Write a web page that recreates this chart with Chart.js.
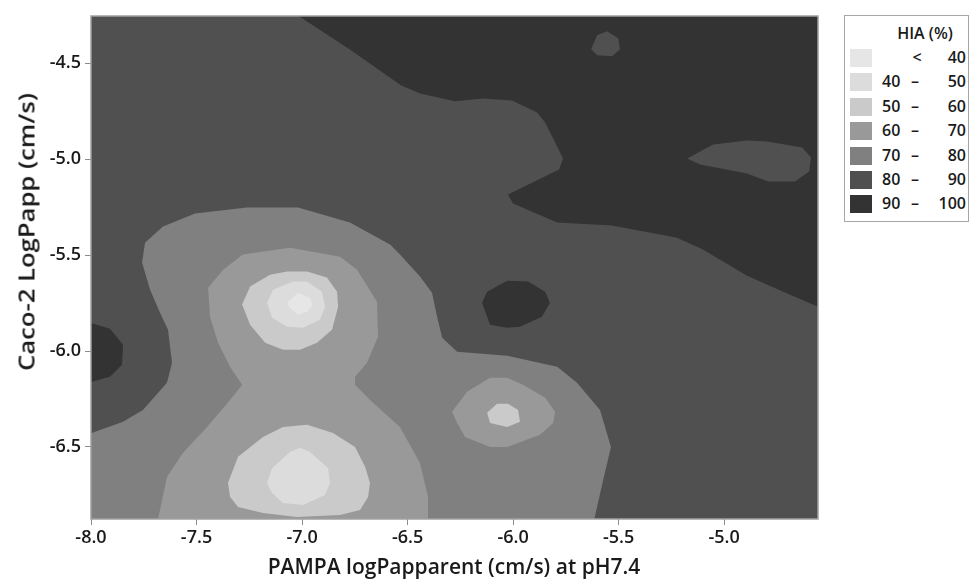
<!DOCTYPE html>
<html>
<head>
<meta charset="utf-8">
<script src="https://cdn.jsdelivr.net/npm/chart.js@4/dist/chart.umd.min.js"></script>
<style>
  html, body { margin: 0; padding: 0; background: #ffffff; }
  #wrap { position: relative; width: 971px; height: 586px; overflow: hidden; font-family: "Open Sans", "Noto Sans", sans-serif; color: #1a1a1a; }
  #c { position: absolute; left: 0; top: 0; }
  .ttl { position: absolute; font-weight: 600; font-size: 21px; white-space: nowrap; line-height: 1; }
  #xt { left: 454px; top: 566px; transform: translate(-50%, -50%); }
  #yt { left: 27px; top: 232px; transform: translate(-50%, -50%) rotate(-90deg) scale(1.22, 1); }
  #legend { position: absolute; left: 844px; top: 15px; width: 125px; height: 207px; border: 1px solid #a6a6a6; box-sizing: border-box; background: #fff; }
  .lg { position: absolute; font-weight: 600; font-size: 16px; line-height: 1; white-space: nowrap; }
  .sw { position: absolute; width: 22px; height: 18px; }
</style>
</head>
<body>
<div id="wrap">
  <canvas id="c" width="971" height="586"></canvas>
  <div class="ttl" id="xt">PAMPA logPapparent (cm/s) at pH7.4</div>
  <div class="ttl" id="yt">Caco-2 LogPapp (cm/s)</div>
  <div id="legend"></div>
</div>
<script>
// ---------------- data ----------------
const xTickValues = [-8.0, -7.5, -7.0, -6.5, -6.0, -5.5, -5.0];
const yTickValues = [-6.5, -6.0, -5.5, -5.0, -4.5];
const xRange = [-8.0, -4.555];
const yRange = [-6.876, -4.253];

const legendTitle = 'HIA (%)';
const levelLow  = ['',   '40', '50', '60', '70', '80', '90'];
const levelHigh = ['40', '50', '60', '70', '80', '90', '100'];
const levelColors = ['#e6e6e6', '#dcdcdc', '#cacaca', '#999999', '#808080', '#505050', '#333333'];

// contour band polygons, [logPapparent, Caco-2 logPapp]
const band90_100_topRight = [
  [-7.10,-4.20],[-7.02,-4.25],[-6.77,-4.43],[-6.53,-4.615],[-6.44,-4.657],[-6.275,-4.698],
  [-6.142,-4.683],[-6.005,-4.693],[-5.886,-4.756],[-5.848,-4.808],[-5.791,-4.933],[-5.763,-4.996],
  [-5.782,-5.054],[-6.024,-5.184],[-6.00,-5.231],[-5.791,-5.330],[-5.531,-5.346],[-5.223,-5.409],
  [-5.100,-5.471],[-4.891,-5.607],[-4.720,-5.691],[-4.555,-5.769],[-4.45,-5.81],[-4.45,-4.20]
];
const band90_100_center = [
  [-6.147,-5.748],[-6.123,-5.691],[-6.028,-5.633],[-5.929,-5.638],[-5.848,-5.691],[-5.825,-5.748],
  [-5.863,-5.821],[-5.967,-5.873],[-6.028,-5.879],[-6.109,-5.863]
];
const band90_100_left = [
  [-8.05,-5.837],[-7.910,-5.884],[-7.848,-5.967],[-7.853,-6.072],[-7.910,-6.134],[-8.05,-6.176]
];
const band80_90_top = [
  [-5.630,-4.427],[-5.602,-4.354],[-5.555,-4.333],[-5.502,-4.369],[-5.493,-4.427],[-5.531,-4.463],[-5.602,-4.458]
];
const band80_90_right = [
  [-5.175,-4.996],[-5.052,-4.923],[-4.891,-4.902],[-4.796,-4.907],[-4.630,-4.939],[-4.588,-4.991],
  [-4.597,-5.064],[-4.664,-5.116],[-4.791,-5.116],[-4.891,-5.074],[-5.114,-5.027]
];
const band70_80_main = [
  [-8.05,-6.95],[-8.05,-6.448],[-7.848,-6.369],[-7.754,-6.307],[-7.640,-6.166],[-7.616,-6.061],
  [-7.635,-5.889],[-7.673,-5.800],[-7.720,-5.680],[-7.758,-5.539],[-7.744,-5.435],[-7.659,-5.351],
  [-7.507,-5.283],[-7.261,-5.252],[-7.019,-5.252],[-6.773,-5.330],[-6.583,-5.445],[-6.536,-5.497],
  [-6.441,-5.612],[-6.384,-5.696],[-6.360,-5.821],[-6.336,-5.931],[-6.265,-6.004],[-6.028,-6.025],
  [-5.791,-6.082],[-5.697,-6.166],[-5.588,-6.307],[-5.536,-6.500],[-5.573,-6.672],[-5.616,-6.881],[-5.63,-6.95]
];
const band60_70_main = [
  [-7.70,-6.95],[-7.682,-6.876],[-7.640,-6.657],[-7.564,-6.531],[-7.450,-6.396],[-7.341,-6.255],
  [-7.284,-6.176],[-7.341,-6.082],[-7.398,-5.957],[-7.436,-5.821],[-7.445,-5.670],[-7.374,-5.576],
  [-7.280,-5.497],[-7.057,-5.461],[-6.820,-5.508],[-6.739,-5.576],[-6.645,-5.743],[-6.640,-5.926],
  [-6.692,-6.061],[-6.749,-6.134],[-6.749,-6.176],[-6.678,-6.255],[-6.536,-6.396],[-6.441,-6.584],
  [-6.403,-6.761],[-6.403,-6.95]
];
const band60_70_small = [
  [-6.289,-6.317],[-6.218,-6.213],[-6.109,-6.140],[-6.028,-6.140],[-5.953,-6.176],[-5.848,-6.244],
  [-5.801,-6.317],[-5.810,-6.375],[-5.872,-6.437],[-6.028,-6.500],[-6.109,-6.500],[-6.227,-6.448],[-6.265,-6.375]
];
const band50_60_upper = [
  [-7.284,-5.758],[-7.246,-5.664],[-7.152,-5.602],[-7.071,-5.586],[-6.976,-5.586],[-6.882,-5.617],
  [-6.834,-5.691],[-6.829,-5.769],[-6.858,-5.889],[-6.929,-5.957],[-7.009,-5.993],[-7.090,-5.993],
  [-7.175,-5.957],[-7.246,-5.863]
];
const band50_60_lower = [
  [-7.351,-6.688],[-7.303,-6.552],[-7.185,-6.448],[-7.090,-6.396],[-6.976,-6.385],[-6.853,-6.427],
  [-6.749,-6.500],[-6.701,-6.604],[-6.678,-6.688],[-6.687,-6.761],[-6.725,-6.829],[-6.820,-6.855],
  [-7.024,-6.865],[-7.185,-6.845],[-7.303,-6.813],[-7.341,-6.761]
];
const band50_60_small = [
  [-6.123,-6.322],[-6.076,-6.275],[-6.024,-6.275],[-5.976,-6.307],[-5.967,-6.369],[-6.028,-6.396],[-6.109,-6.375]
];
const band40_50_upper = [
  [-7.166,-5.748],[-7.137,-5.680],[-7.043,-5.638],[-6.976,-5.638],[-6.905,-5.691],[-6.891,-5.769],
  [-6.915,-5.837],[-6.995,-5.879],[-7.071,-5.873],[-7.142,-5.826]
];
const band40_50_lower = [
  [-7.166,-6.688],[-7.142,-6.610],[-7.057,-6.526],[-7.009,-6.505],[-6.962,-6.526],[-6.877,-6.610],
  [-6.867,-6.688],[-6.891,-6.751],[-6.995,-6.803],[-7.090,-6.792],[-7.142,-6.740]
];
const band0_40_upper = [
  [-7.071,-5.748],[-7.019,-5.696],[-6.962,-5.722],[-6.948,-5.758],[-6.976,-5.795],[-7.019,-5.811],[-7.057,-5.774]
];

// drawing order: bottom layers first; level index refers to levelColors
const layers = [
  [band90_100_topRight, 6], [band90_100_center, 6], [band90_100_left, 6],
  [band80_90_top, 5], [band80_90_right, 5],
  [band70_80_main, 4],
  [band60_70_main, 3], [band60_70_small, 3],
  [band50_60_upper, 2], [band50_60_lower, 2], [band50_60_small, 2],
  [band40_50_upper, 1], [band40_50_lower, 1],
  [band0_40_upper, 0]
];

// ---------------- chart ----------------
const datasets = layers.map(([poly, lvl], i) => ({
  data: poly.map(([x, y]) => ({x, y})),
  fill: 'shape',
  backgroundColor: levelColors[lvl],
  borderWidth: 0,
  borderColor: 'rgba(0,0,0,0)',
  pointRadius: 0,
  tension: 0,
  order: layers.length - i
}));

const bgPlugin = {
  id: 'plotBg',
  beforeDatasetsDraw(chart) {
    const {ctx, chartArea: a} = chart;
    ctx.save();
    ctx.fillStyle = levelColors[5];
    ctx.fillRect(a.left, a.top, a.right - a.left, a.bottom - a.top);
    ctx.restore();
  },
  afterDatasetsDraw(chart) {
    const {ctx, chartArea: a} = chart;
    ctx.save();
    ctx.strokeStyle = '#a0a0a0';
    ctx.lineWidth = 1.5;
    ctx.strokeRect(a.left, a.top, a.right - a.left, a.bottom - a.top);
    ctx.restore();
  }
};

const tickFont = {family: '"Open Sans", "Noto Sans", sans-serif', size: 18, weight: '600'};

new Chart(document.getElementById('c'), {
  type: 'line',
  data: {datasets},
  plugins: [bgPlugin],
  options: {
    responsive: false,
    devicePixelRatio: 1,
    animation: false,
    events: [],
    layout: {padding: {left: 0, right: 153, top: 16, bottom: 0}},
    plugins: {legend: {display: false}, tooltip: {enabled: false}},
    scales: {
      x: {
        type: 'linear', min: xRange[0], max: xRange[1],
        afterBuildTicks: s => { s.ticks = xTickValues.map(v => ({value: v})); },
        afterFit: s => { s.height = 67; },
        grid: {drawOnChartArea: false, drawTicks: true, tickLength: 6, color: '#8c8c8c'},
        border: {display: false},
        ticks: {font: tickFont, color: '#1a1a1a', padding: 2, callback: v => v.toFixed(1)}
      },
      y: {
        type: 'linear', min: yRange[0], max: yRange[1],
        afterBuildTicks: s => { s.ticks = yTickValues.map(v => ({value: v})); },
        afterFit: s => { s.width = 91; },
        grid: {drawOnChartArea: false, drawTicks: true, tickLength: 6, color: '#8c8c8c'},
        border: {display: false},
        ticks: {font: tickFont, color: '#1a1a1a', padding: 4, callback: v => v.toFixed(1)}
      }
    }
  }
});

// ---------------- legend (HTML) ----------------
const lg = document.getElementById('legend');
function addText(txt, pos, top, align) {
  const d = document.createElement('div');
  d.className = 'lg';
  d.textContent = txt;
  d.style.top = top + 'px';
  if (align === 'right') { d.style.right = pos + 'px'; }
  else if (align === 'center') { d.style.left = pos + 'px'; d.style.transform = 'translateX(-50%)'; }
  else { d.style.left = pos + 'px'; }
  lg.appendChild(d);
  return d;
}
const t = addText(legendTitle, 80, 9, 'center');
t.style.fontSize = '16px';
levelColors.forEach((col, i) => {
  const yc = 42 + i * 24.4;
  const sw = document.createElement('div');
  sw.className = 'sw';
  sw.style.left = '5px';
  sw.style.top = (yc - 9) + 'px';
  sw.style.background = col;
  lg.appendChild(sw);
  const ty = yc - 9;
  if (levelLow[i] === '') {
    addText('<', 72, ty, 'center');
  } else {
    addText(levelLow[i], 37, ty, 'left');
    addText('\u2013', 70, ty, 'center');
  }
  addText(levelHigh[i], 2, ty, 'right');
});
</script>
</body>
</html>
